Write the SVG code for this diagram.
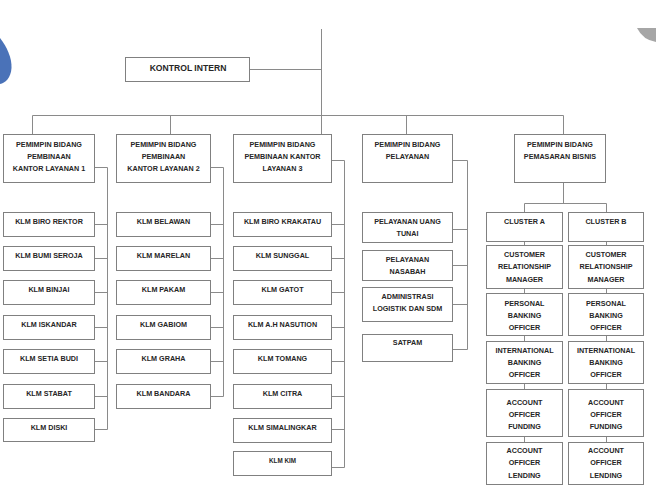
<svg xmlns="http://www.w3.org/2000/svg" width="656" height="492" viewBox="0 0 656 492">
<style>
.b{fill:#fff;stroke:#808080;stroke-width:1}
.t{font-family:"Liberation Sans",Arial,sans-serif;font-weight:bold;font-size:7.2px;fill:#262626;text-anchor:middle}
.c{fill:none;stroke:#8a8a8a;stroke-width:1}
</style>
<rect width="656" height="492" fill="#fff"/>
<path d="M0,38 C7,47 12,58 11.5,68 C11,78 5,83 0,84 Z" fill="#4a72b8"/>
<path d="M637,28 L656,28 L656,42 Q643,40 637,28 Z" fill="#a6a6a6"/>
<g id="connectors" class="c">
<path d="M321.5,29 V134 M250,69.5 H321.5 M32.5,134 V115.5 H563.5 V134 M170.5,115.5 V134 M406.5,115.5 V134"/>
<path d="M95,167.5 H107.5 V429.5 M95,224.5 H107.5 M95,258.5 H107.5 M95,292.5 H107.5 M95,327.5 H107.5 M95,361.5 H107.5 M95,396.5 H107.5 M95,429.5 H107.5"/>
<path d="M211,167.5 H223.5 V396.5 M211,224.5 H223.5 M211,258.5 H223.5 M211,292.5 H223.5 M211,327.5 H223.5 M211,361.5 H223.5 M211,396.5 H223.5"/>
<path d="M332,160.5 H344.5 V467.5 M332,224.5 H344.5 M332,258.5 H344.5 M332,292.5 H344.5 M332,327.5 H344.5 M332,361.5 H344.5 M332,396.5 H344.5 M332,429.5 H344.5 M332,467.5 H344.5"/>
<path d="M453,160.5 H467.5 V349.5 M453,229.5 H467.5 M453,265.5 H467.5 M453,304.5 H467.5 M453,349.5 H467.5"/>
<path d="M563.5,183 V203.5 M524.5,212 V203.5 H606.5 V212"/>
<path d="M524.5,242 V245 M524.5,289 V293 M524.5,336 V341 M524.5,384 V389 M524.5,437 V442"/>
<path d="M606.5,242 V245 M606.5,289 V293 M606.5,336 V341 M606.5,384 V389 M606.5,437 V442"/>
</g>
<g id="kontrol-intern"><rect class="b" x="125.5" y="57.5" width="124" height="24"/><text class="t" x="188" y="70.5" style="font-size:8.6px">KONTROL INTERN</text></g>
<g id="pb1"><rect class="b" x="3.5" y="134.5" width="91" height="48"/><text class="t" x="49" y="146.5">PEMIMPIN BIDANG</text><text class="t" x="49" y="158.5">PEMBINAAN</text><text class="t" x="49" y="170.5">KANTOR LAYANAN 1</text></g>
<g id="pb2"><rect class="b" x="116.5" y="134.5" width="94" height="48"/><text class="t" x="163.5" y="146.5">PEMIMPIN BIDANG</text><text class="t" x="163.5" y="158.5">PEMBINAAN</text><text class="t" x="163.5" y="170.5">KANTOR LAYANAN 2</text></g>
<g id="pb3"><rect class="b" x="233.5" y="134.5" width="98" height="48"/><text class="t" x="282.5" y="146.5">PEMIMPIN BIDANG</text><text class="t" x="282.5" y="158.5">PEMBINAAN KANTOR</text><text class="t" x="282.5" y="170.5">LAYANAN 3</text></g>
<g id="pb4"><rect class="b" x="362.5" y="134.5" width="90" height="48"/><text class="t" x="407.5" y="146.5">PEMIMPIN BIDANG</text><text class="t" x="407.5" y="158.5">PELAYANAN</text></g>
<g id="pb5"><rect class="b" x="514.5" y="134.5" width="91" height="48"/><text class="t" x="560" y="146.5">PEMIMPIN BIDANG</text><text class="t" x="560" y="158.5">PEMASARAN BISNIS</text></g>
<g id="c1-1"><rect class="b" x="3.5" y="212.5" width="91" height="24"/><text class="t" x="49" y="223.5">KLM BIRO REKTOR</text></g>
<g id="c1-2"><rect class="b" x="3.5" y="246.5" width="91" height="24"/><text class="t" x="49" y="257.5">KLM BUMI SEROJA</text></g>
<g id="c1-3"><rect class="b" x="3.5" y="280.5" width="91" height="24"/><text class="t" x="49" y="291.5">KLM BINJAI</text></g>
<g id="c1-4"><rect class="b" x="3.5" y="315.5" width="91" height="24"/><text class="t" x="49" y="326.5">KLM ISKANDAR</text></g>
<g id="c1-5"><rect class="b" x="3.5" y="349.5" width="91" height="24"/><text class="t" x="49" y="360.5">KLM SETIA BUDI</text></g>
<g id="c1-6"><rect class="b" x="3.5" y="384.5" width="91" height="24"/><text class="t" x="49" y="395.5">KLM STABAT</text></g>
<g id="c1-7"><rect class="b" x="3.5" y="418.5" width="91" height="23"/><text class="t" x="49" y="429.5">KLM DISKI</text></g>
<g id="c2-1"><rect class="b" x="116.5" y="212.5" width="94" height="24"/><text class="t" x="163.5" y="223.5">KLM BELAWAN</text></g>
<g id="c2-2"><rect class="b" x="116.5" y="246.5" width="94" height="24"/><text class="t" x="163.5" y="257.5">KLM MARELAN</text></g>
<g id="c2-3"><rect class="b" x="116.5" y="280.5" width="94" height="24"/><text class="t" x="163.5" y="291.5">KLM PAKAM</text></g>
<g id="c2-4"><rect class="b" x="116.5" y="315.5" width="94" height="24"/><text class="t" x="163.5" y="326.5">KLM GABIOM</text></g>
<g id="c2-5"><rect class="b" x="116.5" y="349.5" width="94" height="24"/><text class="t" x="163.5" y="360.5">KLM GRAHA</text></g>
<g id="c2-6"><rect class="b" x="116.5" y="384.5" width="94" height="24"/><text class="t" x="163.5" y="395.5">KLM BANDARA</text></g>
<g id="c3-1"><rect class="b" x="233.5" y="212.5" width="98" height="24"/><text class="t" x="282.5" y="223.5">KLM BIRO KRAKATAU</text></g>
<g id="c3-2"><rect class="b" x="233.5" y="246.5" width="98" height="24"/><text class="t" x="282.5" y="257.5">KLM SUNGGAL</text></g>
<g id="c3-3"><rect class="b" x="233.5" y="280.5" width="98" height="24"/><text class="t" x="282.5" y="291.5">KLM GATOT</text></g>
<g id="c3-4"><rect class="b" x="233.5" y="315.5" width="98" height="24"/><text class="t" x="282.5" y="326.5">KLM A.H NASUTION</text></g>
<g id="c3-5"><rect class="b" x="233.5" y="349.5" width="98" height="24"/><text class="t" x="282.5" y="360.5">KLM TOMANG</text></g>
<g id="c3-6"><rect class="b" x="233.5" y="384.5" width="98" height="24"/><text class="t" x="282.5" y="395.5">KLM CITRA</text></g>
<g id="c3-7"><rect class="b" x="233.5" y="418.5" width="98" height="24"/><text class="t" x="282.5" y="429.5">KLM SIMALINGKAR</text></g>
<g id="c3-8"><rect class="b" x="233.5" y="451.5" width="98" height="24"/><text class="t" x="282.5" y="462.5" style="font-size:6.3px">KLM KIM</text></g>
<g id="c4-1"><rect class="b" x="362.5" y="212.5" width="90" height="30"/><text class="t" x="407.5" y="223.5">PELAYANAN UANG</text><text class="t" x="407.5" y="235.5">TUNAI</text></g>
<g id="c4-2"><rect class="b" x="362.5" y="250.5" width="90" height="30"/><text class="t" x="407.5" y="261.5">PELAYANAN</text><text class="t" x="407.5" y="273.5">NASABAH</text></g>
<g id="c4-3"><rect class="b" x="362.5" y="287.5" width="90" height="34"/><text class="t" x="407.5" y="298.5">ADMINISTRASI</text><text class="t" x="407.5" y="310.5">LOGISTIK DAN SDM</text></g>
<g id="c4-4"><rect class="b" x="362.5" y="334.5" width="90" height="27"/><text class="t" x="407.5" y="344.5">SATPAM</text></g>
<g id="cluster-a"><rect class="b" x="486.5" y="212.5" width="76" height="29"/><text class="t" x="524.5" y="223.5">CLUSTER A</text></g>
<g id="a-crm"><rect class="b" x="486.5" y="245.5" width="76" height="43"/><text class="t" x="524.5" y="256.5">CUSTOMER</text><text class="t" x="524.5" y="269">RELATIONSHIP</text><text class="t" x="524.5" y="281.5">MANAGER</text></g>
<g id="a-pbo"><rect class="b" x="486.5" y="293.5" width="76" height="42"/><text class="t" x="524.5" y="305.5">PERSONAL</text><text class="t" x="524.5" y="317.5">BANKING</text><text class="t" x="524.5" y="329.5">OFFICER</text></g>
<g id="a-ibo"><rect class="b" x="486.5" y="341.5" width="76" height="42"/><text class="t" x="524.5" y="352.5">INTERNATIONAL</text><text class="t" x="524.5" y="364.5">BANKING</text><text class="t" x="524.5" y="377">OFFICER</text></g>
<g id="a-aof"><rect class="b" x="486.5" y="389.5" width="76" height="47"/><text class="t" x="524.5" y="404.5">ACCOUNT</text><text class="t" x="524.5" y="416.5">OFFICER</text><text class="t" x="524.5" y="429">FUNDING</text></g>
<g id="a-aol"><rect class="b" x="486.5" y="442.5" width="76" height="42"/><text class="t" x="524.5" y="452.5">ACCOUNT</text><text class="t" x="524.5" y="465">OFFICER</text><text class="t" x="524.5" y="477.5">LENDING</text></g>
<g id="cluster-b"><rect class="b" x="568.5" y="212.5" width="75" height="29"/><text class="t" x="606" y="223.5">CLUSTER B</text></g>
<g id="b-crm"><rect class="b" x="568.5" y="245.5" width="75" height="43"/><text class="t" x="606" y="256.5">CUSTOMER</text><text class="t" x="606" y="269">RELATIONSHIP</text><text class="t" x="606" y="281.5">MANAGER</text></g>
<g id="b-pbo"><rect class="b" x="568.5" y="293.5" width="75" height="42"/><text class="t" x="606" y="305.5">PERSONAL</text><text class="t" x="606" y="317.5">BANKING</text><text class="t" x="606" y="329.5">OFFICER</text></g>
<g id="b-ibo"><rect class="b" x="568.5" y="341.5" width="75" height="42"/><text class="t" x="606" y="352.5">INTERNATIONAL</text><text class="t" x="606" y="364.5">BANKING</text><text class="t" x="606" y="377">OFFICER</text></g>
<g id="b-aof"><rect class="b" x="568.5" y="389.5" width="75" height="47"/><text class="t" x="606" y="404.5">ACCOUNT</text><text class="t" x="606" y="416.5">OFFICER</text><text class="t" x="606" y="429">FUNDING</text></g>
<g id="b-aol"><rect class="b" x="568.5" y="442.5" width="75" height="42"/><text class="t" x="606" y="452.5">ACCOUNT</text><text class="t" x="606" y="465">OFFICER</text><text class="t" x="606" y="477.5">LENDING</text></g>
</svg>
